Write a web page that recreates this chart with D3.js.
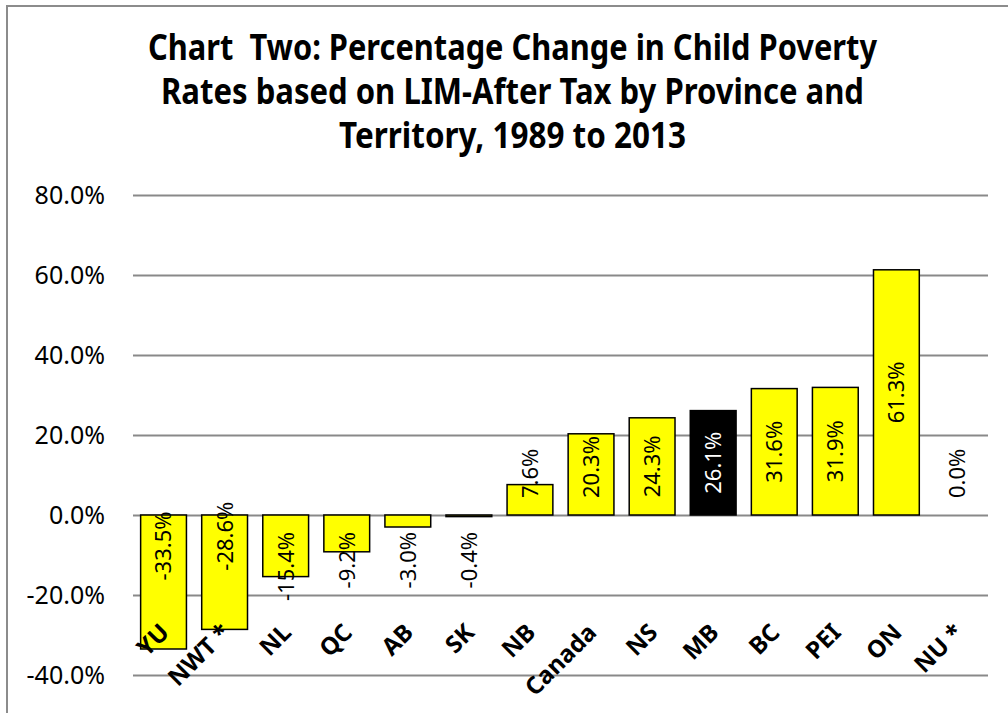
<!DOCTYPE html>
<html>
<head>
<meta charset="utf-8">
<script src="https://cdn.jsdelivr.net/npm/d3@7"></script>
<style>
  html, body { margin: 0; padding: 0; background: #ffffff; }
  svg { display: block; }
  text { white-space: pre; }
</style>
</head>
<body>
<svg id="chart" width="1008" height="713"></svg>
<script>
// ---- data ----
const categories = ["YU", "NWT *", "NL", "QC", "AB", "SK", "NB", "Canada", "NS", "MB", "BC", "PEI", "ON", "NU *"];
const values = [-33.5, -28.6, -15.4, -9.2, -3.0, -0.4, 7.6, 20.3, 24.3, 26.1, 31.6, 31.9, 61.3, 0.0];
const highlighted = ["MB"];
const yTicks = [-40, -20, 0, 20, 40, 60, 80];
const titleLines = [
  "Chart  Two: Percentage Change in Child Poverty",
  "Rates based on LIM-After Tax by Province and",
  "Territory, 1989 to 2013"
];

// ---- layout ----
const W = 1008, H = 713;
const plot = { left: 133, right: 988, top: 195, bottom: 675 };
const svg = d3.select("#chart");
const loc = d3.formatLocale({ decimal: ".", thousands: ",", grouping: [3], currency: ["", ""], minus: "-" });
const pct = v => loc.format(".1f")(v) + "%";

svg.append("rect").attr("width", W).attr("height", H).attr("fill", "#ffffff");
// chart-area border (cropped at right/bottom)
svg.append("rect")
  .attr("x", 7).attr("y", 6).attr("width", W + 20).attr("height", H + 20)
  .attr("fill", "none").attr("stroke", "#8c8c8c").attr("stroke-width", 2);

const x = d3.scaleBand().domain(categories)
  .range([plot.left, plot.right]).paddingInner(0.25).paddingOuter(0.125);
const y = d3.scaleLinear().domain([-40, 80]).range([plot.bottom, plot.top]);

// title
const titleWidths = [729, 703, 347];
const titleBase = [60, 104, 148];
svg.append("g").selectAll("text").data(titleLines).join("text")
  .attr("x", 512.5).attr("y", (d, i) => titleBase[i])
  .attr("text-anchor", "middle")
  .attr("font-family", "'Noto Sans', 'Open Sans', sans-serif")
  .attr("font-weight", "bold").attr("font-size", 35)
  .attr("textLength", (d, i) => titleWidths[i])
  .attr("lengthAdjust", "spacingAndGlyphs")
  .attr("fill", "#000")
  .text(d => d);

// gridlines + y tick labels via axis
const yAxis = d3.axisLeft(y).tickValues(yTicks)
  .tickFormat(pct)
  .tickSize(-(plot.right - plot.left)).tickPadding(28);
const gy = svg.append("g").attr("transform", `translate(${plot.left},0)`).call(yAxis);
gy.select(".domain").remove();
gy.selectAll(".tick line").attr("stroke", "#898989").attr("stroke-width", 2);
gy.selectAll(".tick text")
  .attr("font-family", "'Noto Sans', 'Open Sans', sans-serif")
  .attr("font-size", 25).attr("fill", "#000");

// bars
svg.append("g").selectAll("rect").data(categories).join("rect")
  .attr("x", d => x(d))
  .attr("width", x.bandwidth())
  .attr("y", (d, i) => y(Math.max(0, values[i])))
  .attr("height", (d, i) => Math.abs(y(values[i]) - y(0)))
  .attr("fill", d => highlighted.includes(d) ? "#000000" : "#ffff00")
  .attr("stroke", (d, i) => values[i] === 0 ? "none" : "#000")
  .attr("stroke-width", 1.5);

// data labels (rotated)
const y0 = y(0);
const labels = svg.append("g").selectAll("text").data(categories).join("text")
  .attr("font-family", "'Noto Sans', 'Open Sans', sans-serif")
  .attr("font-size", 22)
  .attr("text-anchor", "middle")
  .attr("dy", "0.36em")
  .attr("fill", d => highlighted.includes(d) ? "#ffffff" : "#000000")
  .text((d, i) => pct(values[i]));
labels.each(function(d, i) {
  const L = this.getComputedTextLength();
  const v = values[i];
  const barMid = (y(v) + y0) / 2;
  const barH = Math.abs(y(v) - y0);
  let cy;
  if (v >= 0) cy = Math.min(barMid, y0 - 17 - L / 2);
  else cy = (L + 10 < barH) ? barMid - 36 : y0 + 17 + L / 2;
  const cx = x(d) + x.bandwidth() / 2;
  d3.select(this).attr("transform", `translate(${cx},${cy}) rotate(-90)`);
});

// category labels (rotated -45)
svg.append("g").selectAll("text").data(categories).join("text")
  .attr("transform", d => `translate(${x(d) + x.bandwidth() / 2 + 7},${634}) rotate(-45)`)
  .attr("text-anchor", "end")
  .attr("font-family", "'Noto Sans', 'Open Sans', sans-serif")
  .attr("font-weight", "bold").attr("font-size", 24)
  .attr("fill", "#000")
  .text(d => d);
</script>
</body>
</html>
